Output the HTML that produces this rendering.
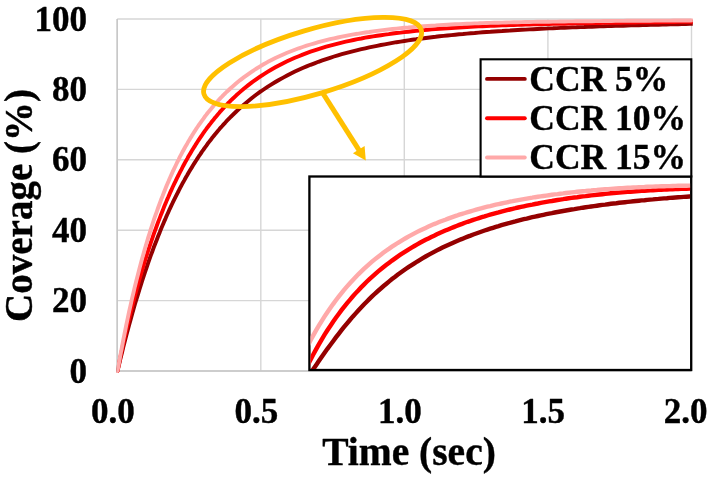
<!DOCTYPE html>
<html><head><meta charset="utf-8"><title>Coverage vs Time</title>
<style>html,body{margin:0;padding:0;background:#fff}svg{display:block}text{font-family:"Liberation Serif","Times New Roman",serif;font-weight:bold;fill:#000;stroke:#000;stroke-width:0.4px;stroke-linejoin:round}</style>
</head><body>
<svg width="711" height="478" viewBox="0 0 711 478">
<rect width="711" height="478" fill="#fff"/>
<g stroke="#d6d6d6" stroke-width="1.4" fill="none">
<line x1="117.2" y1="371.0" x2="691.5" y2="371.0"/>
<line x1="117.2" y1="300.6" x2="691.5" y2="300.6"/>
<line x1="117.2" y1="230.2" x2="691.5" y2="230.2"/>
<line x1="117.2" y1="159.8" x2="691.5" y2="159.8"/>
<line x1="117.2" y1="89.4" x2="691.5" y2="89.4"/>
<line x1="117.2" y1="19.0" x2="691.5" y2="19.0"/>
<line x1="117.2" y1="19.0" x2="117.2" y2="371.0"/>
<line x1="260.8" y1="19.0" x2="260.8" y2="371.0"/>
<line x1="404.3" y1="19.0" x2="404.3" y2="371.0"/>
<line x1="547.9" y1="19.0" x2="547.9" y2="371.0"/>
<line x1="691.5" y1="19.0" x2="691.5" y2="371.0"/>
</g>
<path d="M117.2,19.0 V371.0 H691.5" fill="none" stroke="#c6c6c6" stroke-width="1.4"/>
<clipPath id="mc"><rect x="116.8" y="0" width="576" height="380"/></clipPath>
<g fill="none" stroke-width="3.9" stroke-linejoin="round" stroke-linecap="round" clip-path="url(#mc)">
<path stroke="#940000" d="M117.5,371.0 L119.0,364.8 L120.4,358.8 L121.9,352.9 L123.3,347.0 L124.8,341.3 L126.2,335.7 L127.7,330.2 L129.1,324.9 L130.6,319.6 L132.0,314.4 L133.5,309.3 L134.9,304.3 L136.4,299.4 L137.9,294.6 L139.3,289.9 L140.8,285.2 L142.2,280.7 L143.7,276.2 L145.1,271.9 L146.6,267.6 L148.0,263.4 L149.5,259.2 L150.9,255.2 L152.4,251.2 L153.8,247.3 L155.3,243.5 L156.8,239.7 L158.2,236.0 L159.7,232.4 L161.1,228.8 L162.6,225.3 L164.0,221.9 L165.5,218.6 L166.9,215.3 L168.4,212.0 L169.8,208.8 L171.3,205.7 L172.7,202.7 L174.2,199.7 L175.7,196.7 L177.1,193.8 L178.6,191.0 L180.0,188.2 L181.5,185.4 L182.9,182.7 L184.4,180.1 L185.8,177.5 L187.3,175.0 L188.7,172.5 L190.2,170.0 L191.7,167.6 L193.1,165.3 L194.6,162.9 L196.0,160.7 L197.5,158.4 L198.9,156.2 L200.4,154.1 L201.8,151.9 L203.3,149.9 L204.7,147.8 L206.2,145.8 L207.6,143.8 L209.1,141.9 L210.6,140.0 L212.0,138.1 L213.5,136.3 L214.9,134.5 L216.4,132.7 L217.8,131.0 L219.3,129.3 L220.7,127.6 L222.2,126.0 L223.6,124.4 L225.1,122.8 L226.5,121.2 L228.0,119.7 L229.5,118.2 L230.9,116.7 L232.4,115.3 L236.3,111.5 L240.2,107.9 L244.1,104.4 L248.0,101.2 L251.9,98.0 L255.8,95.0 L259.7,92.2 L263.6,89.5 L267.5,86.9 L271.5,84.4 L275.4,82.0 L279.3,79.7 L283.2,77.6 L287.1,75.5 L291.0,73.5 L294.9,71.6 L298.8,69.8 L302.7,68.0 L306.6,66.4 L310.5,64.8 L314.5,63.3 L318.4,61.8 L322.3,60.4 L326.2,59.1 L330.1,57.8 L334.0,56.5 L337.9,55.3 L341.8,54.2 L345.7,53.1 L349.6,52.1 L353.5,51.1 L357.5,50.1 L361.4,49.2 L365.3,48.3 L369.2,47.4 L373.1,46.6 L377.0,45.8 L380.9,45.0 L384.8,44.3 L388.7,43.6 L392.6,42.9 L396.5,42.2 L400.5,41.6 L404.4,41.0 L408.3,40.4 L412.2,39.8 L416.1,39.3 L420.0,38.7 L423.9,38.2 L427.8,37.7 L431.7,37.2 L435.6,36.8 L439.5,36.3 L443.5,35.9 L447.4,35.5 L451.3,35.1 L455.2,34.7 L459.1,34.3 L463.0,34.0 L466.9,33.6 L470.8,33.3 L474.7,33.0 L478.6,32.6 L482.5,32.3 L486.5,32.0 L490.4,31.8 L494.3,31.5 L498.2,31.2 L502.1,31.0 L506.0,30.7 L509.9,30.5 L513.8,30.2 L517.7,30.0 L521.6,29.8 L525.5,29.6 L529.5,29.4 L533.4,29.2 L537.3,29.0 L541.2,28.8 L545.1,28.6 L549.0,28.4 L552.9,28.3 L556.8,28.1 L560.7,27.9 L564.6,27.7 L568.5,27.6 L572.5,27.4 L576.4,27.3 L580.3,27.1 L584.2,27.0 L588.1,26.8 L592.0,26.7 L595.9,26.5 L599.8,26.4 L603.7,26.3 L607.6,26.1 L611.5,26.0 L615.5,25.9 L619.4,25.8 L623.3,25.7 L627.2,25.5 L631.1,25.4 L635.0,25.3 L638.9,25.2 L642.8,25.1 L646.7,25.0 L650.6,24.9 L654.5,24.8 L658.5,24.7 L662.4,24.6 L666.3,24.5 L670.2,24.4 L674.1,24.3 L678.0,24.2 L681.9,24.1 L685.8,24.0 L689.7,23.9 L693.6,23.9 L697.5,23.8"/>
<path stroke="#ff0000" d="M117.5,371.0 L119.0,363.9 L120.4,356.9 L121.9,350.2 L123.3,343.5 L124.8,337.1 L126.2,330.7 L127.7,324.6 L129.1,318.5 L130.6,312.6 L132.0,306.8 L133.5,301.2 L134.9,295.7 L136.4,290.3 L137.9,285.0 L139.3,279.8 L140.8,274.8 L142.2,269.8 L143.7,265.0 L145.1,260.3 L146.6,255.6 L148.0,251.1 L149.5,246.7 L150.9,242.3 L152.4,238.1 L153.8,233.9 L155.3,229.8 L156.8,225.8 L158.2,221.9 L159.7,218.1 L161.1,214.4 L162.6,210.7 L164.0,207.1 L165.5,203.6 L166.9,200.1 L168.4,196.8 L169.8,193.4 L171.3,190.2 L172.7,187.0 L174.2,183.9 L175.7,180.9 L177.1,177.9 L178.6,175.0 L180.0,172.1 L181.5,169.3 L182.9,166.5 L184.4,163.8 L185.8,161.2 L187.3,158.6 L188.7,156.0 L190.2,153.6 L191.7,151.1 L193.1,148.7 L194.6,146.4 L196.0,144.1 L197.5,141.8 L198.9,139.6 L200.4,137.4 L201.8,135.3 L203.3,133.2 L204.7,131.2 L206.2,129.2 L207.6,127.2 L209.1,125.3 L210.6,123.4 L212.0,121.5 L213.5,119.7 L214.9,117.9 L216.4,116.2 L217.8,114.5 L219.3,112.8 L220.7,111.1 L222.2,109.5 L223.6,107.9 L225.1,106.4 L226.5,104.8 L228.0,103.3 L229.5,101.9 L230.9,100.4 L232.4,99.0 L236.3,95.3 L240.2,91.9 L244.1,88.5 L248.0,85.4 L251.9,82.4 L255.8,79.6 L259.7,76.9 L263.6,74.3 L267.5,71.9 L271.5,69.5 L275.4,67.3 L279.3,65.2 L283.2,63.2 L287.1,61.3 L291.0,59.5 L294.9,57.8 L298.8,56.2 L302.7,54.6 L306.6,53.1 L310.5,51.7 L314.5,50.4 L318.4,49.1 L322.3,47.9 L326.2,46.7 L330.1,45.6 L334.0,44.6 L337.9,43.6 L341.8,42.6 L345.7,41.7 L349.6,40.8 L353.5,40.0 L357.5,39.2 L361.4,38.5 L365.3,37.7 L369.2,37.0 L373.1,36.4 L377.0,35.8 L380.9,35.2 L384.8,34.6 L388.7,34.1 L392.6,33.5 L396.5,33.0 L400.5,32.6 L404.4,32.1 L408.3,31.7 L412.2,31.3 L416.1,30.9 L420.0,30.5 L423.9,30.1 L427.8,29.8 L431.7,29.4 L435.6,29.1 L439.5,28.8 L443.5,28.5 L447.4,28.3 L451.3,28.0 L455.2,27.7 L459.1,27.5 L463.0,27.3 L466.9,27.0 L470.8,26.8 L474.7,26.6 L478.6,26.4 L482.5,26.2 L486.5,26.1 L490.4,25.9 L494.3,25.7 L498.2,25.6 L502.1,25.4 L506.0,25.3 L509.9,25.1 L513.8,25.0 L517.7,24.9 L521.6,24.8 L525.5,24.6 L529.5,24.5 L533.4,24.4 L537.3,24.3 L541.2,24.2 L545.1,24.1 L549.0,24.0 L552.9,23.9 L556.8,23.8 L560.7,23.8 L564.6,23.7 L568.5,23.6 L572.5,23.5 L576.4,23.4 L580.3,23.4 L584.2,23.3 L588.1,23.2 L592.0,23.1 L595.9,23.1 L599.8,23.0 L603.7,22.9 L607.6,22.9 L611.5,22.8 L615.5,22.8 L619.4,22.7 L623.3,22.6 L627.2,22.6 L631.1,22.5 L635.0,22.5 L638.9,22.4 L642.8,22.4 L646.7,22.3 L650.6,22.3 L654.5,22.2 L658.5,22.2 L662.4,22.1 L666.3,22.1 L670.2,22.0 L674.1,22.0 L678.0,21.9 L681.9,21.9 L685.8,21.9 L689.7,21.8 L693.6,21.8 L697.5,21.7"/>
<path stroke="#ffa9a9" d="M117.5,371.0 L119.0,362.9 L120.4,355.0 L121.9,347.3 L123.3,339.8 L124.8,332.5 L126.2,325.3 L127.7,318.4 L129.1,311.7 L130.6,305.1 L132.0,298.7 L133.5,292.5 L134.9,286.4 L136.4,280.5 L137.9,274.7 L139.3,269.1 L140.8,263.6 L142.2,258.3 L143.7,253.1 L145.1,248.0 L146.6,243.0 L148.0,238.2 L149.5,233.5 L150.9,228.9 L152.4,224.4 L153.8,220.0 L155.3,215.7 L156.8,211.6 L158.2,207.5 L159.7,203.5 L161.1,199.6 L162.6,195.9 L164.0,192.2 L165.5,188.5 L166.9,185.0 L168.4,181.6 L169.8,178.2 L171.3,174.9 L172.7,171.7 L174.2,168.6 L175.7,165.5 L177.1,162.5 L178.6,159.6 L180.0,156.7 L181.5,153.9 L182.9,151.2 L184.4,148.5 L185.8,145.9 L187.3,143.4 L188.7,140.9 L190.2,138.4 L191.7,136.1 L193.1,133.7 L194.6,131.4 L196.0,129.2 L197.5,127.0 L198.9,124.9 L200.4,122.8 L201.8,120.8 L203.3,118.8 L204.7,116.8 L206.2,114.9 L207.6,113.0 L209.1,111.2 L210.6,109.4 L212.0,107.7 L213.5,105.9 L214.9,104.3 L216.4,102.6 L217.8,101.0 L219.3,99.4 L220.7,97.9 L222.2,96.4 L223.6,94.9 L225.1,93.5 L226.5,92.0 L228.0,90.7 L229.5,89.3 L230.9,88.0 L232.4,86.7 L236.3,83.3 L240.2,80.1 L244.1,77.1 L248.0,74.3 L251.9,71.6 L255.8,69.0 L259.7,66.6 L263.6,64.3 L267.5,62.1 L271.5,60.1 L275.4,58.1 L279.3,56.3 L283.2,54.5 L287.1,52.8 L291.0,51.3 L294.9,49.8 L298.8,48.3 L302.7,47.0 L306.6,45.7 L310.5,44.5 L314.5,43.3 L318.4,42.2 L322.3,41.2 L326.2,40.2 L330.1,39.2 L334.0,38.3 L337.9,37.5 L341.8,36.7 L345.7,35.9 L349.6,35.1 L353.5,34.4 L357.5,33.8 L361.4,33.1 L365.3,32.5 L369.2,32.0 L373.1,31.4 L377.0,30.9 L380.9,30.4 L384.8,29.9 L388.7,29.4 L392.6,29.0 L396.5,28.6 L400.5,28.2 L404.4,27.8 L408.3,27.5 L412.2,27.1 L416.1,26.8 L420.0,26.5 L423.9,26.2 L427.8,25.9 L431.7,25.6 L435.6,25.4 L439.5,25.1 L443.5,24.9 L447.4,24.7 L451.3,24.5 L455.2,24.3 L459.1,24.1 L463.0,23.9 L466.9,23.7 L470.8,23.6 L474.7,23.4 L478.6,23.3 L482.5,23.1 L486.5,23.0 L490.4,22.9 L494.3,22.8 L498.2,22.7 L502.1,22.6 L506.0,22.5 L509.9,22.4 L513.8,22.3 L517.7,22.2 L521.6,22.1 L525.5,22.0 L529.5,22.0 L533.4,21.9 L537.3,21.8 L541.2,21.8 L545.1,21.7 L549.0,21.7 L552.9,21.6 L556.8,21.6 L560.7,21.5 L564.6,21.5 L568.5,21.4 L572.5,21.4 L576.4,21.3 L580.3,21.3 L584.2,21.2 L588.1,21.2 L592.0,21.2 L595.9,21.1 L599.8,21.1 L603.7,21.0 L607.6,21.0 L611.5,21.0 L615.5,20.9 L619.4,20.9 L623.3,20.9 L627.2,20.8 L631.1,20.8 L635.0,20.8 L638.9,20.8 L642.8,20.7 L646.7,20.7 L650.6,20.7 L654.5,20.6 L658.5,20.6 L662.4,20.6 L666.3,20.6 L670.2,20.6 L674.1,20.5 L678.0,20.5 L681.9,20.5 L685.8,20.5 L689.7,20.5 L693.6,20.4 L697.5,20.4"/>
</g>
<g stroke="#ffc000" fill="none" stroke-width="4.8">
<ellipse cx="312.6" cy="62" rx="113.3" ry="32.2" transform="rotate(-16.5 312.6 62)"/>
<line x1="322.8" y1="93.2" x2="360.3" y2="152.2" stroke-width="5"/>
</g>
<polygon fill="#ffc000" points="365.8,160.6 352.9,153.3 364.6,146"/>
<rect x="309.4" y="176.5" width="381.8" height="193.5" fill="#fff" stroke="#000" stroke-width="2.3"/>
<clipPath id="ic"><rect x="310.5" y="177.6" width="379.6" height="191.3"/></clipPath>
<g fill="none" stroke-width="4.4" clip-path="url(#ic)">
<path stroke="#940000" d="M305.0,381.4 L307.8,377.3 L310.6,373.1 L313.4,369.0 L316.2,364.9 L319.0,360.8 L321.8,356.7 L324.6,352.7 L327.4,348.8 L330.3,345.0 L333.1,341.2 L335.9,337.4 L338.7,333.8 L341.5,330.2 L344.3,326.7 L347.1,323.3 L349.9,320.0 L352.7,316.7 L355.5,313.6 L358.3,310.5 L361.1,307.5 L363.9,304.5 L366.7,301.7 L369.5,298.9 L372.3,296.2 L375.1,293.5 L377.9,291.0 L380.8,288.5 L383.6,286.0 L386.4,283.7 L389.2,281.4 L392.0,279.1 L394.8,277.0 L397.6,274.8 L400.4,272.8 L403.2,270.8 L406.0,268.8 L408.8,266.9 L411.6,265.1 L414.4,263.3 L417.2,261.5 L420.0,259.8 L422.8,258.1 L425.6,256.5 L428.5,254.9 L431.3,253.4 L434.1,251.9 L436.9,250.4 L439.7,249.0 L442.5,247.6 L445.3,246.3 L448.1,245.0 L450.9,243.7 L453.7,242.4 L456.5,241.2 L459.3,240.0 L462.1,238.9 L464.9,237.7 L467.7,236.6 L470.5,235.6 L473.3,234.5 L476.2,233.5 L479.0,232.5 L481.8,231.5 L484.6,230.5 L487.4,229.6 L490.2,228.7 L493.0,227.8 L495.8,226.9 L498.6,226.1 L501.4,225.2 L504.2,224.4 L507.0,223.6 L509.8,222.9 L512.6,222.1 L515.4,221.4 L518.2,220.6 L521.0,219.9 L523.8,219.2 L526.7,218.6 L529.5,217.9 L532.3,217.2 L535.1,216.6 L537.9,216.0 L540.7,215.4 L543.5,214.8 L546.3,214.2 L549.1,213.6 L551.9,213.1 L554.7,212.5 L557.5,212.0 L560.3,211.5 L563.1,211.0 L565.9,210.5 L568.7,210.0 L571.5,209.5 L574.4,209.1 L577.2,208.6 L580.0,208.2 L582.8,207.7 L585.6,207.3 L588.4,206.9 L591.2,206.5 L594.0,206.1 L596.8,205.7 L599.6,205.3 L602.4,204.9 L605.2,204.6 L608.0,204.2 L610.8,203.8 L613.6,203.5 L616.4,203.2 L619.2,202.8 L622.1,202.5 L624.9,202.2 L627.7,201.9 L630.5,201.6 L633.3,201.3 L636.1,201.0 L638.9,200.7 L641.7,200.4 L644.5,200.2 L647.3,199.9 L650.1,199.6 L652.9,199.4 L655.7,199.1 L658.5,198.9 L661.3,198.6 L664.1,198.4 L666.9,198.2 L669.7,197.9 L672.6,197.7 L675.4,197.5 L678.2,197.3 L681.0,197.1 L683.8,196.9 L686.6,196.7 L689.4,196.5 L692.2,196.3 L695.0,196.1"/>
<path stroke="#ff0000" d="M305.0,371.0 L307.8,365.2 L310.6,359.6 L313.4,354.3 L316.2,349.1 L319.0,344.1 L321.8,339.3 L324.6,334.7 L327.4,330.3 L330.3,326.0 L333.1,321.8 L335.9,317.8 L338.7,314.0 L341.5,310.2 L344.3,306.6 L347.1,303.1 L349.9,299.8 L352.7,296.5 L355.5,293.4 L358.3,290.4 L361.1,287.4 L363.9,284.6 L366.7,281.8 L369.5,279.1 L372.3,276.6 L375.1,274.1 L377.9,271.6 L380.8,269.3 L383.6,267.0 L386.4,264.8 L389.2,262.7 L392.0,260.6 L394.8,258.6 L397.6,256.6 L400.4,254.7 L403.2,252.9 L406.0,251.1 L408.8,249.3 L411.6,247.6 L414.4,246.0 L417.2,244.4 L420.0,242.8 L422.8,241.3 L425.6,239.8 L428.5,238.4 L431.3,237.0 L434.1,235.7 L436.9,234.3 L439.7,233.0 L442.5,231.8 L445.3,230.6 L448.1,229.4 L450.9,228.2 L453.7,227.1 L456.5,226.0 L459.3,224.9 L462.1,223.9 L464.9,222.8 L467.7,221.8 L470.5,220.9 L473.3,219.9 L476.2,219.0 L479.0,218.1 L481.8,217.2 L484.6,216.4 L487.4,215.5 L490.2,214.7 L493.0,213.9 L495.8,213.1 L498.6,212.4 L501.4,211.6 L504.2,210.9 L507.0,210.2 L509.8,209.5 L512.6,208.8 L515.4,208.2 L518.2,207.5 L521.0,206.9 L523.8,206.3 L526.7,205.7 L529.5,205.1 L532.3,204.6 L535.1,204.0 L537.9,203.5 L540.7,202.9 L543.5,202.4 L546.3,201.9 L549.1,201.4 L551.9,201.0 L554.7,200.5 L557.5,200.0 L560.3,199.6 L563.1,199.2 L565.9,198.7 L568.7,198.3 L571.5,197.9 L574.4,197.5 L577.2,197.2 L580.0,196.8 L582.8,196.4 L585.6,196.1 L588.4,195.7 L591.2,195.4 L594.0,195.1 L596.8,194.8 L599.6,194.5 L602.4,194.2 L605.2,193.9 L608.0,193.6 L610.8,193.3 L613.6,193.1 L616.4,192.8 L619.2,192.6 L622.1,192.3 L624.9,192.1 L627.7,191.9 L630.5,191.7 L633.3,191.5 L636.1,191.3 L638.9,191.1 L641.7,190.9 L644.5,190.7 L647.3,190.5 L650.1,190.3 L652.9,190.2 L655.7,190.0 L658.5,189.9 L661.3,189.7 L664.1,189.6 L666.9,189.5 L669.7,189.4 L672.6,189.2 L675.4,189.1 L678.2,189.0 L681.0,188.9 L683.8,188.8 L686.6,188.7 L689.4,188.6 L692.2,188.6 L695.0,188.5"/>
<path stroke="#ffa9a9" d="M305.0,351.1 L307.8,345.6 L310.6,340.2 L313.4,335.1 L316.2,330.2 L319.0,325.4 L321.8,320.8 L324.6,316.4 L327.4,312.2 L330.3,308.1 L333.1,304.1 L335.9,300.3 L338.7,296.6 L341.5,293.1 L344.3,289.7 L347.1,286.4 L349.9,283.2 L352.7,280.2 L355.5,277.2 L358.3,274.3 L361.1,271.6 L363.9,268.9 L366.7,266.3 L369.5,263.8 L372.3,261.4 L375.1,259.1 L377.9,256.9 L380.8,254.7 L383.6,252.6 L386.4,250.5 L389.2,248.6 L392.0,246.6 L394.8,244.8 L397.6,243.0 L400.4,241.3 L403.2,239.6 L406.0,238.0 L408.8,236.4 L411.6,234.9 L414.4,233.4 L417.2,231.9 L420.0,230.5 L422.8,229.2 L425.6,227.9 L428.5,226.6 L431.3,225.3 L434.1,224.1 L436.9,223.0 L439.7,221.8 L442.5,220.7 L445.3,219.7 L448.1,218.6 L450.9,217.6 L453.7,216.6 L456.5,215.7 L459.3,214.7 L462.1,213.8 L464.9,213.0 L467.7,212.1 L470.5,211.3 L473.3,210.5 L476.2,209.7 L479.0,208.9 L481.8,208.2 L484.6,207.4 L487.4,206.7 L490.2,206.1 L493.0,205.4 L495.8,204.7 L498.6,204.1 L501.4,203.5 L504.2,202.9 L507.0,202.3 L509.8,201.7 L512.6,201.2 L515.4,200.6 L518.2,200.1 L521.0,199.6 L523.8,199.1 L526.7,198.6 L529.5,198.1 L532.3,197.7 L535.1,197.2 L537.9,196.8 L540.7,196.4 L543.5,196.0 L546.3,195.6 L549.1,195.2 L551.9,194.8 L554.7,194.4 L557.5,194.1 L560.3,193.7 L563.1,193.4 L565.9,193.0 L568.7,192.7 L571.5,192.4 L574.4,192.1 L577.2,191.8 L580.0,191.5 L582.8,191.2 L585.6,191.0 L588.4,190.7 L591.2,190.5 L594.0,190.2 L596.8,190.0 L599.6,189.7 L602.4,189.5 L605.2,189.3 L608.0,189.1 L610.8,188.9 L613.6,188.7 L616.4,188.5 L619.2,188.3 L622.1,188.2 L624.9,188.0 L627.7,187.8 L630.5,187.7 L633.3,187.5 L636.1,187.4 L638.9,187.2 L641.7,187.1 L644.5,187.0 L647.3,186.8 L650.1,186.7 L652.9,186.6 L655.7,186.5 L658.5,186.4 L661.3,186.3 L664.1,186.2 L666.9,186.1 L669.7,186.1 L672.6,186.0 L675.4,185.9 L678.2,185.8 L681.0,185.8 L683.8,185.7 L686.6,185.7 L689.4,185.6 L692.2,185.6 L695.0,185.5"/>
</g>
<rect x="480.6" y="59.3" width="210.7" height="117.2" fill="#fff" stroke="#000" stroke-width="2.1"/>
<g stroke-width="3.9" stroke-linecap="round">
<line x1="487" y1="78.9" x2="524.8" y2="78.9" stroke="#940000"/>
<line x1="487" y1="118.2" x2="524.8" y2="118.2" stroke="#ff0000"/>
<line x1="487" y1="157.5" x2="524.8" y2="157.5" stroke="#ffa9a9"/>
</g>
<g font-size="35.5">
<text x="529.3" y="90.6">CCR 5%</text>
<text x="529.3" y="129.9">CCR 10%</text>
<text x="529.3" y="169.2">CCR 15%</text>
</g>
<g font-size="35" text-anchor="end">
<text x="87" y="382.6">0</text>
<text x="87" y="312.2">20</text>
<text x="87" y="241.8">40</text>
<text x="87" y="171.4">60</text>
<text x="87" y="101.0">80</text>
<text x="87" y="30.6">100</text>
</g>
<g font-size="35" text-anchor="middle">
<text x="112.9" y="423.3">0.0</text>
<text x="256.4" y="423.3">0.5</text>
<text x="399.8" y="423.3">1.0</text>
<text x="543" y="423.3">1.5</text>
<text x="685.5" y="423.3">2.0</text>
</g>
<text x="409" y="465" font-size="39.5" text-anchor="middle">Time (sec)</text>
<text transform="translate(31.5 205.5) rotate(-90)" font-size="39" text-anchor="middle">Coverage (%)</text>
</svg></body></html>
